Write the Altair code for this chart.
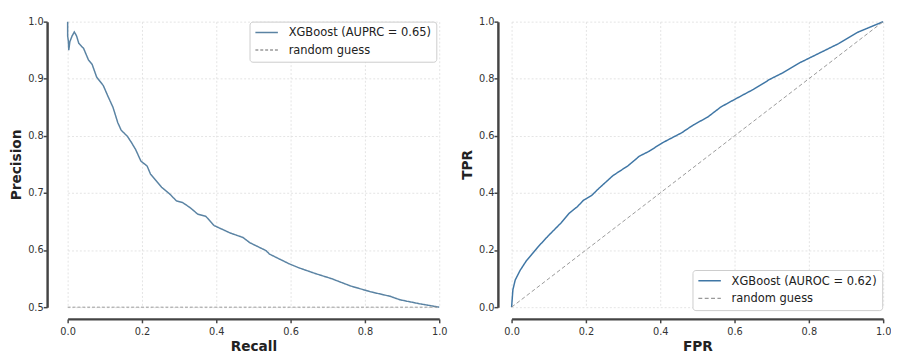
import altair as alt
import pandas as pd

# ---- data ----
pr_recall = [0.0, 0.0, 0.002, 0.003, 0.006, 0.012, 0.018, 0.024, 0.03, 0.043, 0.056, 0.066, 0.078,
             0.096, 0.108, 0.122, 0.135, 0.144, 0.161, 0.172, 0.183, 0.197, 0.214, 0.223, 0.253,
             0.275, 0.293, 0.31, 0.33, 0.35, 0.372, 0.394, 0.437, 0.472, 0.49, 0.534, 0.543,
             0.596, 0.622, 0.666, 0.71, 0.762, 0.815, 0.868, 0.894, 0.947, 1.0]
pr_precision = [1.0, 0.975, 0.965, 0.95, 0.965, 0.975, 0.982, 0.975, 0.962, 0.953, 0.933, 0.925, 0.903,
                0.888, 0.87, 0.85, 0.823, 0.81, 0.799, 0.788, 0.776, 0.756, 0.747, 0.733, 0.71,
                0.698, 0.686, 0.683, 0.674, 0.663, 0.659, 0.643, 0.63, 0.622, 0.613, 0.599, 0.593,
                0.576, 0.569, 0.559, 0.55, 0.537, 0.527, 0.519, 0.513, 0.506, 0.5]

roc_fpr = [0.0, 0.0035, 0.0097, 0.023, 0.04, 0.055, 0.071, 0.098, 0.133, 0.155, 0.177, 0.194,
           0.216, 0.234, 0.273, 0.313, 0.344, 0.37, 0.405, 0.458, 0.489, 0.528, 0.563, 0.598,
           0.651, 0.695, 0.73, 0.774, 0.827, 0.88, 0.932, 1.0]
roc_tpr = [0.0, 0.061, 0.095, 0.129, 0.163, 0.186, 0.211, 0.249, 0.295, 0.329, 0.352, 0.375,
           0.392, 0.415, 0.461, 0.495, 0.529, 0.546, 0.575, 0.611, 0.638, 0.666, 0.701, 0.726,
           0.763, 0.798, 0.821, 0.855, 0.889, 0.923, 0.963, 1.0]

pr_label = "XGBoost (AUPRC = 0.65)"
roc_label = "XGBoost (AUROC = 0.62)"
guess_label = "random guess"

pr_guess_x = [0.0, 1.0]
pr_guess_y = [0.5, 0.5]
roc_guess_x = [0.0, 1.0]
roc_guess_y = [0.0, 1.0]

x_ticks = [0.0, 0.2, 0.4, 0.6, 0.8, 1.0]
pr_y_ticks = [0.5, 0.6, 0.7, 0.8, 0.9, 1.0]
roc_y_ticks = [0.0, 0.2, 0.4, 0.6, 0.8, 1.0]

FONT = "DejaVu Sans"
AX = "#444444"


def panel(xs, ys, label, color, gx, gy, xtitle, ytitle, yvals, ydomain, yoff, xoff,
          leg_x, leg_y, dash):
    curve = pd.DataFrame({"x": xs, "y": ys, "series": label, "order": list(range(len(xs)))})
    guess = pd.DataFrame({"x": gx, "y": gy, "series": guess_label, "order": list(range(len(gx)))})
    dom = [label, guess_label]
    legend = alt.Legend(
        title=None, orient="none", legendX=leg_x, legendY=leg_y, direction="vertical",
        fillColor="white", strokeColor="#cccccc", padding=5, cornerRadius=3,
        symbolType="stroke", symbolSize=529, symbolStrokeWidth=1.5, clipHeight=12,
        labelFont=FONT, labelFontSize=11.7, labelColor="#222222", labelOffset=10,
        rowPadding=5,
    )
    enc = dict(
        color=alt.Color("series:N", scale=alt.Scale(domain=dom, range=[color, "#999999"]), legend=legend),
        strokeDash=alt.StrokeDash("series:N", scale=alt.Scale(domain=dom, range=[[1, 0], dash]), legend=legend),
        order=alt.Order("order:Q"),
    )
    xscale = alt.Scale(domain=[0, 1], nice=False, zero=False)
    yscale = alt.Scale(domain=ydomain, nice=False, zero=False)
    ax1 = alt.Axis(orient="bottom", offset=xoff, domain=True, ticks=True, tickSize=4,
                   labels=True, grid=True, values=x_ticks, format=".1f", title=xtitle,
                   domainColor=AX, domainWidth=2.5, domainOpacity=1, tickColor=AX, tickWidth=1.5,
                   labelPadding=4, titlePadding=3, labelFlush=False)
    ay1 = alt.Axis(orient="left", offset=yoff, domain=True, ticks=True, tickSize=4,
                   labels=True, grid=True, values=yvals, format=".1f", title=ytitle,
                   domainColor=AX, domainWidth=2.5, domainOpacity=1, tickColor=AX, tickWidth=1.5,
                   labelPadding=0, titlePadding=4, labelFlush=False)
    l1 = alt.Chart(curve).mark_line(strokeWidth=1.5).encode(
        x=alt.X("x:Q", scale=xscale, axis=ax1),
        y=alt.Y("y:Q", scale=yscale, axis=ay1),
        **enc,
    )
    l2 = alt.Chart(guess).mark_line(strokeWidth=1).encode(
        x=alt.X("x:Q", scale=xscale),
        y=alt.Y("y:Q", scale=yscale),
        **enc,
    )
    return alt.layer(l1, l2).properties(width=380, height=292)


left = panel(pr_recall, pr_precision, pr_label, "#5a83a3", pr_guess_x, pr_guess_y,
             "Recall", "Precision", pr_y_ticks, [0.5, 1.0], 21, 12, 186, 0, [3, 2])
right = panel(roc_fpr, roc_tpr, roc_label, "#3f76a5", roc_guess_x, roc_guess_y,
              "FPR", "TPR", roc_y_ticks, [0.0, 1.0], 14, 12, 185, 254, [4, 2.5])

chart = alt.hconcat(left, right, spacing=14).resolve_scale(
    color="independent", strokeDash="independent"
).properties(
    padding={"top": 5, "left": 2, "right": 0, "bottom": 0}
).configure_view(stroke=None).configure_axis(
    labelFont=FONT, labelFontSize=10, labelColor="#333333",
    gridColor="#dddddd", gridDash=[2, 2], gridWidth=0.8,
    titleFont=FONT, titleFontSize=14, titleFontWeight="bold", titleColor="#222222",
)

chart.save("out.html", embed_options={"renderer": "svg", "actions": False})
